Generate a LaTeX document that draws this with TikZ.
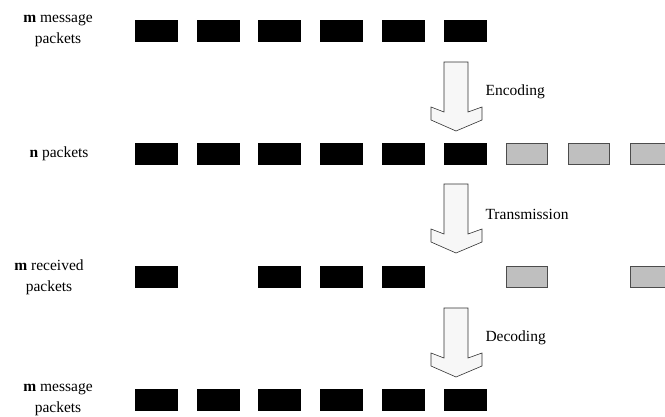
\documentclass[tikz,border=0pt]{standalone}
\usepackage{fontspec}
\setmainfont{Liberation Serif}
\usetikzlibrary{positioning}

\tikzset{
  pkt/.style={draw=black,fill=black,minimum width=42pt,minimum height=21pt,inner sep=0pt},
  redundant/.style={draw=black!70,fill=black!25,line width=0.7pt,minimum width=41pt,minimum height=21pt,inner sep=0pt},
  rowlabel/.style={align=center,font=\fontsize{15.5}{21}\selectfont},
  steplabel/.style={anchor=west,font=\fontsize{15.5}{18}\selectfont},
  bigarrow/.style={draw=black!80,fill=black!3,line width=0.6pt,line join=miter},
}

\begin{document}
\begin{tikzpicture}[x=1pt,y=-1pt]
    \useasboundingbox (0,0) rectangle (665,416);

    % labels on the left
    \node[rowlabel] (lab1) at (58,31)  {\textbf{m} message\\packets};
    \node[rowlabel] (lab2) at (59,154) {\textbf{n} packets};
    \node[rowlabel] (lab3) at (49,277) {\textbf{m} received\\packets};
    \node[rowlabel] (lab4) at (58,400) {\textbf{m} message\\packets};

    % message packets
    \foreach \i in {1,...,6}
        \node[pkt] (a\i) at ({156+61.8*(\i-1)},31) {};

    % encoded packets
    \foreach \i in {1,...,6}
        \node[pkt] (b\i) at ({156+61.8*(\i-1)},154) {};
    \foreach \i in {7,8,9}
        \node[redundant] (b\i) at ({156+61.8*(\i-1)},154) {};

    % received packets (some lost)
    \foreach \i in {1,3,4,5}
        \node[pkt] (c\i) at ({156+61.8*(\i-1)},277) {};
    \foreach \i in {7,9}
        \node[redundant] (c\i) at ({156+61.8*(\i-1)},277) {};

    % decoded packets
    \foreach \i in {1,...,6}
        \node[pkt] (d\i) at ({156+61.8*(\i-1)},400) {};

    % block arrows between the rows
    \foreach \top/\name/\txt in {62/enc/Encoding,184/trans/Transmission,308/dec/Decoding} {
        \draw[bigarrow] (444,\top) -- (468,\top) -- (468,\top+50) -- (482,\top+45)
            -- (482,\top+58) -- (456,\top+69) -- (431,\top+58) -- (431,\top+45)
            -- (444,\top+50) -- cycle;
        \node[steplabel] (\name) at (482,\top+30) {\txt};
    }

\end{tikzpicture}
\end{document}
